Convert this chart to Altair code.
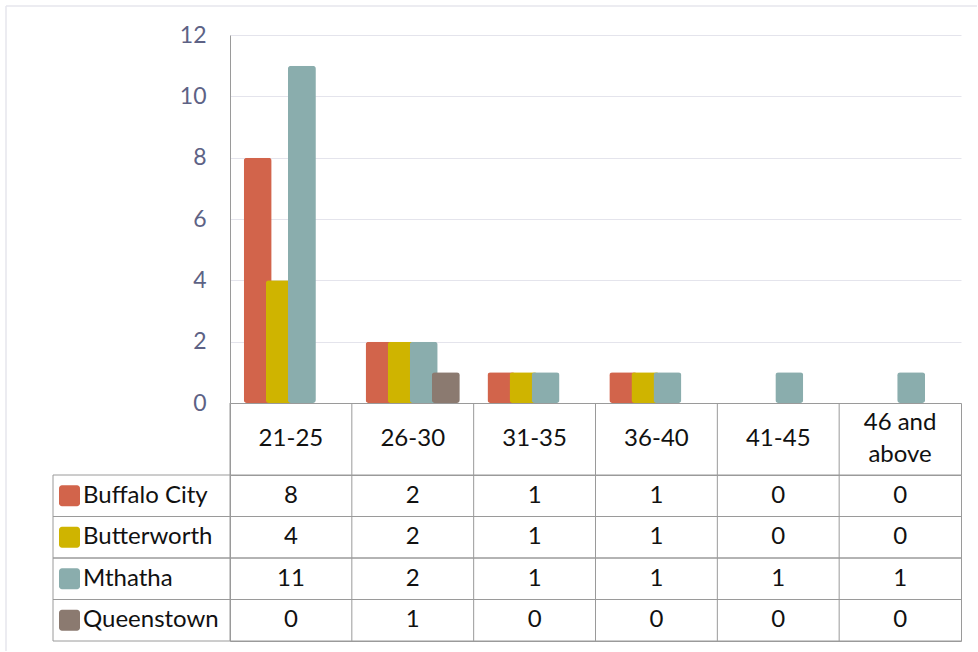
import altair as alt
import pandas as pd

# Age groups, locations and counts per location
ages = ["21-25", "26-30", "31-35", "36-40", "41-45", "46 and above"]
cities = ["Buffalo City", "Butterworth", "Mthatha", "Queenstown"]
buffalo_city = [8, 2, 1, 1, 0, 0]
butterworth = [4, 2, 1, 1, 0, 0]
mthatha = [11, 2, 1, 1, 1, 1]
queenstown = [0, 1, 0, 0, 0, 0]
colors = ["#d2644b", "#cfb400", "#8aadad", "#8b7a70"]
y_ticks = [0, 2, 4, 6, 8, 10, 12]

series = dict(zip(cities, [buffalo_city, butterworth, mthatha, queenstown]))
rows = []
for city in cities:
    for age, v in zip(ages, series[city]):
        rows.append({"city": city, "age": age, "value": v})
df = pd.DataFrame(rows)

header = pd.DataFrame({"age": ages, "label": [a.replace(" and ", " and\n") for a in ages]})
header["multi"] = header["label"].str.contains("\n")
names = pd.DataFrame({"city": cities})
one = pd.DataFrame({"k": [0]})

FONT = "Lato"
FS = 24
W = 731
H_BARS = 368
H_HEAD = 72
H_BODY = 166
LINE = "#9a9a9a"
GRID = "#e4e4ec"
FRAME = "#e6e6ec"
TEXT = "#111111"

color = alt.Color("city:N", sort=cities,
                  scale=alt.Scale(domain=cities, range=colors), legend=None)

# ---- column chart -------------------------------------------------------
bars = alt.Chart(df).transform_filter("datum.value > 0").mark_bar(
    width=28, cornerRadius=3
).encode(
    x=alt.X("age:N", sort=ages,
            scale=alt.Scale(domain=ages, paddingInner=0.275, paddingOuter=0.137),
            axis=None),
    xOffset=alt.XOffset("city:N", sort=cities,
                        scale=alt.Scale(domain=cities, paddingInner=0, paddingOuter=0)),
    y=alt.Y("value:Q", scale=alt.Scale(domain=[0, 12], nice=False),
            axis=alt.Axis(values=y_ticks, title=None, domainColor=LINE, ticks=False,
                          gridColor=GRID, labelColor="#5d6285", labelFont=FONT,
                          labelFontSize=23, labelPadding=24)),
    color=color,
)

# light outer frame of the chart area (top and left edges)
frame_top = alt.Chart(one).mark_rule(color=FRAME, strokeWidth=1.5).encode(
    x=alt.value(-224), x2=alt.value(747), y=alt.value(-29))
frame_left = alt.Chart(one).mark_rule(color=FRAME, strokeWidth=1.5).encode(
    x=alt.value(-224), y=alt.value(-29), y2=alt.value(616))

top = alt.layer(frame_top, frame_left, bars).properties(
    width=W, height=H_BARS, view=alt.ViewBackground(stroke=None))

# ---- data table header --------------------------------------------------
x_scale = alt.Scale(domain=ages, paddingInner=0, paddingOuter=0)
x_col = alt.X("age:N", sort=ages, scale=x_scale, axis=None)
x_col_edge = alt.X("age:N", sort=ages, scale=x_scale, axis=None, bandPosition=0)

head_lines = alt.Chart(header).mark_rule(color=LINE).encode(
    x=x_col_edge, y=alt.value(0), y2=alt.value(H_HEAD))
head_single = alt.Chart(header).transform_filter("!datum.multi").mark_text(
    font=FONT, fontSize=FS, color=TEXT
).encode(x=x_col, y=alt.value(H_HEAD / 2), text="label:N")
head_multi = alt.Chart(header).transform_filter("datum.multi").mark_text(
    font=FONT, fontSize=FS, lineBreak="\n", lineHeight=32, dy=-16, color=TEXT
).encode(x=x_col, y=alt.value(H_HEAD / 2), text="label:N")

head = alt.layer(head_lines, head_single, head_multi).properties(
    width=W, height=H_HEAD, view=alt.ViewBackground(stroke=LINE))

# ---- data table body ----------------------------------------------------
y_scale = alt.Scale(domain=cities, paddingInner=0, paddingOuter=0)
y_row = alt.Y("city:N", sort=cities, scale=y_scale, axis=None)
y_row_top = alt.Y("city:N", sort=cities, scale=y_scale, axis=None, bandPosition=0)
y_row_bottom = alt.Y("city:N", sort=cities, scale=y_scale, axis=None, bandPosition=1)

cells = alt.Chart(df).mark_text(font=FONT, fontSize=FS, color=TEXT).encode(
    x=x_col, y=y_row, text="value:Q")

col_lines = alt.Chart(header).mark_rule(color=LINE).encode(
    x=x_col_edge, y=alt.value(0), y2=alt.value(H_BODY))
row_lines_top = alt.Chart(names).mark_rule(color=LINE).encode(
    x=alt.value(-177), x2=alt.value(W), y=y_row_top)
row_lines_bottom = alt.Chart(names).mark_rule(color=LINE).encode(
    x=alt.value(-177), x2=alt.value(W), y=y_row_bottom)
left_edge = alt.Chart(one).mark_rule(color=LINE).encode(
    x=alt.value(-177), y=alt.value(0), y2=alt.value(H_BODY))

swatches = alt.Chart(names).mark_bar(height=21, cornerRadius=3).encode(
    x=alt.value(-171), x2=alt.value(-150), y=y_row, color=color)
series_names = alt.Chart(names).mark_text(
    align="left", font=FONT, fontSize=FS, color=TEXT
).encode(x=alt.value(-147), y=y_row, text="city:N")

body = alt.layer(
    col_lines, row_lines_top, row_lines_bottom, left_edge, cells, swatches, series_names
).properties(width=W, height=H_BODY, view=alt.ViewBackground(stroke=LINE))

chart = alt.vconcat(top, head, body, spacing=0, bounds="flush").resolve_scale(
    x="independent", y="independent"
).properties(
    padding={"left": 5, "top": 5, "right": 0, "bottom": 0}
).configure_view(stroke=None)

chart.save("out.html", embed_options={"renderer": "svg", "actions": False})
